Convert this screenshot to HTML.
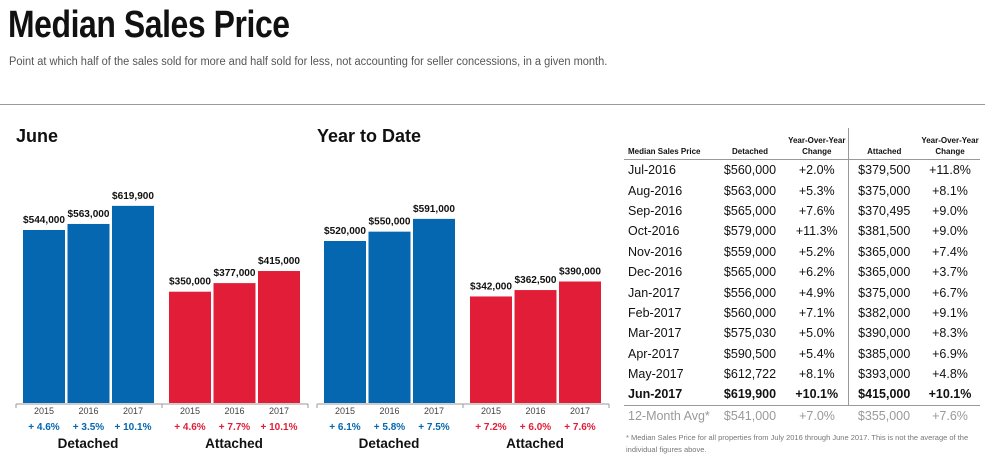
<!DOCTYPE html>
<html><head><meta charset="utf-8">
<style>
body{margin:0;background:#fff;width:995px;height:462px;overflow:hidden;font-family:"Liberation Sans",sans-serif;position:relative}
.abs{position:absolute;white-space:nowrap}
#title{left:8px;top:4px;font-size:38px;font-weight:bold;color:#111;transform:scaleX(0.84);transform-origin:left top;letter-spacing:-0.5px}
#sub{left:9px;top:56px;font-size:11.5px;color:#555;transform:scaleX(0.96);transform-origin:left top}
#hr{left:0;top:104px;width:985px;height:1px;background:#999}
table{position:absolute;left:624px;top:128px;border-collapse:collapse;font-size:12.5px;color:#111;table-layout:fixed;width:356px}
td{height:20.4px;padding:0;text-align:center;white-space:nowrap;overflow:visible}
th{font-size:8px;font-weight:bold;text-align:center;vertical-align:bottom;height:28px;padding-bottom:2px;border-bottom:1px solid #999;line-height:11px}
td.l,th.l{text-align:left;padding-left:4px}
.vl{border-right:1px solid #999}
tr.b td{font-weight:bold;border-bottom:1px solid #999}
tr.g td{color:#999}
#foot{left:626px;top:432px;font-size:7.5px;color:#777;line-height:12px;white-space:normal;width:360px}
</style></head><body>
<div class="abs" id="title">Median Sales Price</div>
<div class="abs" id="sub">Point at which half of the sales sold for more and half sold for less, not accounting for seller concessions, in a given month.</div>
<div class="abs" id="hr"></div>
<svg id="charts" width="620" height="462" style="position:absolute;left:0;top:0"></svg>
<table>
<colgroup><col style="width:90px"><col style="width:72px"><col style="width:62px"><col style="width:72px"><col style="width:60px"></colgroup>
<tr><th class="l">Median Sales Price</th><th>Detached</th><th class="vl">Year-Over-Year<br>Change</th><th>Attached</th><th>Year-Over-Year<br>Change</th></tr>
<tr><td class="l">Jul-2016</td><td>$560,000</td><td class="vl">+2.0%</td><td>$379,500</td><td>+11.8%</td></tr>
<tr><td class="l">Aug-2016</td><td>$563,000</td><td class="vl">+5.3%</td><td>$375,000</td><td>+8.1%</td></tr>
<tr><td class="l">Sep-2016</td><td>$565,000</td><td class="vl">+7.6%</td><td>$370,495</td><td>+9.0%</td></tr>
<tr><td class="l">Oct-2016</td><td>$579,000</td><td class="vl">+11.3%</td><td>$381,500</td><td>+9.0%</td></tr>
<tr><td class="l">Nov-2016</td><td>$559,000</td><td class="vl">+5.2%</td><td>$365,000</td><td>+7.4%</td></tr>
<tr><td class="l">Dec-2016</td><td>$565,000</td><td class="vl">+6.2%</td><td>$365,000</td><td>+3.7%</td></tr>
<tr><td class="l">Jan-2017</td><td>$556,000</td><td class="vl">+4.9%</td><td>$375,000</td><td>+6.7%</td></tr>
<tr><td class="l">Feb-2017</td><td>$560,000</td><td class="vl">+7.1%</td><td>$382,000</td><td>+9.1%</td></tr>
<tr><td class="l">Mar-2017</td><td>$575,030</td><td class="vl">+5.0%</td><td>$390,000</td><td>+8.3%</td></tr>
<tr><td class="l">Apr-2017</td><td>$590,500</td><td class="vl">+5.4%</td><td>$385,000</td><td>+6.9%</td></tr>
<tr><td class="l">May-2017</td><td>$612,722</td><td class="vl">+8.1%</td><td>$393,000</td><td>+4.8%</td></tr>
<tr class="b"><td class="l">Jun-2017</td><td>$619,900</td><td class="vl">+10.1%</td><td>$415,000</td><td>+10.1%</td></tr>
<tr class="g"><td class="l">12-Month Avg*</td><td>$541,000</td><td>+7.0%</td><td>$355,000</td><td>+7.6%</td></tr>
</table>
<div class="abs" id="foot">* Median Sales Price for all properties from July 2016 through June 2017. This is not the average of the individual figures above.</div>
<script>
const years = ["2015","2016","2017"];
const juneDetached = [544000,563000,619900];
const juneAttached = [350000,377000,415000];
const juneDetChg = ["+ 4.6%","+ 3.5%","+ 10.1%"];
const juneAttChg = ["+ 4.6%","+ 7.7%","+ 10.1%"];
const ytdDetached = [520000,550000,591000];
const ytdAttached = [342000,362500,390000];
const ytdDetChg = ["+ 6.1%","+ 5.8%","+ 7.5%"];
const ytdAttChg = ["+ 7.2%","+ 6.0%","+ 7.6%"];

const NS="http://www.w3.org/2000/svg";
const svg=document.getElementById('charts');
function mk(t,a,txt){const e=document.createElementNS(NS,t);for(const k in a)e.setAttribute(k,a[k]);if(txt!==undefined)e.textContent=txt;svg.appendChild(e);return e;}
const base=403;
function fmt(v){return '$'+v.toLocaleString('en-US');}
function panel(x0,title,det,att,dch,ach,scale,key){
  const yS=v=>base-v*scale;
  let t=mk('text',{x:x0,y:142,'font-size':18,'font-weight':'bold',fill:'#111'},title);
  
  
  let ax=mk('line',{x1:x0,x2:x0+292,y1:base+1,y2:base+1,stroke:'#999','stroke-width':1});
  
  
  mk('line',{x1:x0,x2:x0,y1:base+1,y2:base+5,stroke:'#999'});
  mk('line',{x1:x0+146,x2:x0+146,y1:base+1,y2:base+5,stroke:'#999'});
  mk('line',{x1:x0+292,x2:x0+292,y1:base+1,y2:base+5,stroke:'#999'});
  const groups=[[det,dch,'#0467b0','detached','Detached',x0+7],[att,ach,'#e11d38','attached','Attached',x0+153]];
  groups.forEach(g=>{
    const [vals,chg,col,gk,lab,gx]=g;
    vals.forEach((v,i)=>{
      const bx=gx+i*44.5, cx=bx+21;
      const r=mk('rect',{x:bx,y:yS(v),width:42,height:base-yS(v),fill:col});
      
      
      const vl=mk('text',{x:cx,y:yS(v)-7,'font-size':10,'font-weight':'bold','text-anchor':'middle',fill:'#111',textLength:42,lengthAdjust:'spacingAndGlyphs'},fmt(v));
      
      
      const yl=mk('text',{x:cx,y:414,'font-size':9,'text-anchor':'middle',fill:'#444'},years[i]);
      
      
      const pl=mk('text',{x:cx,y:430,'font-size':10,'font-weight':'bold','text-anchor':'middle',fill:col},chg[i]);
      
      
    });
    const gl=mk('text',{x:gx+65,y:448,'font-size':13.5,'font-weight':'bold','text-anchor':'middle',fill:'#111'},lab);
    
    
  });
}
panel(16,'June',juneDetached,juneAttached,juneDetChg,juneAttChg,173/544000,'june');
panel(317,'Year to Date',ytdDetached,ytdAttached,ytdDetChg,ytdAttChg,162/520000,'ytd');
</script>
</body></html>
